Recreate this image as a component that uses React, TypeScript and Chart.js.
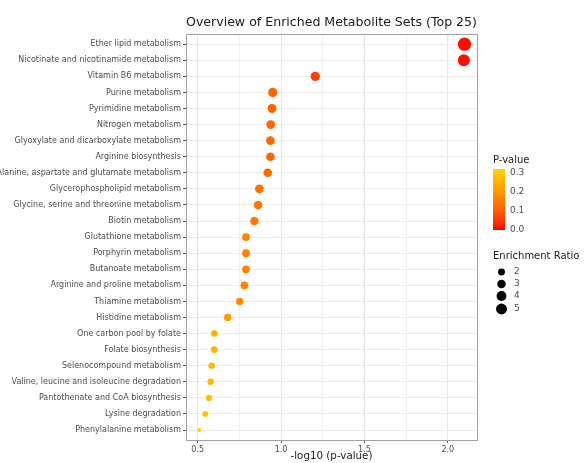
import React, { useEffect, useRef } from "react";
import { Chart, registerables } from "chart.js";

Chart.register(...registerables);

const categories = [
  "Ether lipid metabolism",
  "Nicotinate and nicotinamide metabolism",
  "Vitamin B6 metabolism",
  "Purine metabolism",
  "Pyrimidine metabolism",
  "Nitrogen metabolism",
  "Glyoxylate and dicarboxylate metabolism",
  "Arginine biosynthesis",
  "Alanine, aspartate and glutamate metabolism",
  "Glycerophospholipid metabolism",
  "Glycine, serine and threonine metabolism",
  "Biotin metabolism",
  "Glutathione metabolism",
  "Porphyrin metabolism",
  "Butanoate metabolism",
  "Arginine and proline metabolism",
  "Thiamine metabolism",
  "Histidine metabolism",
  "One carbon pool by folate",
  "Folate biosynthesis",
  "Selenocompound metabolism",
  "Valine, leucine and isoleucine degradation",
  "Pantothenate and CoA biosynthesis",
  "Lysine degradation",
  "Phenylalanine metabolism",
];

const negLog10P = [
  2.1, 2.096, 1.205, 0.95, 0.946, 0.938, 0.936, 0.936, 0.92, 0.87, 0.862, 0.84,
  0.79, 0.79, 0.79, 0.78, 0.752, 0.68, 0.6, 0.6, 0.584, 0.578, 0.568, 0.546, 0.51,
];

const enrichmentRatio = [
  7.3, 6.0, 3.6, 3.5, 3.3, 3.2, 3.1, 3.1, 3.0, 3.2, 3.0, 2.9, 2.6, 2.6, 2.5, 2.5,
  2.3, 2.3, 1.8, 1.8, 1.7, 1.7, 1.6, 1.4, 0.7,
];

const xTicks = [0.5, 1.0, 1.5, 2.0];
const pLegendTicks = [0.3, 0.2, 0.1, 0.0];
const ratioLegend = [2, 3, 4, 5];

const P_MAX = 0.32;
function pColor(p: number) {
  const t = Math.max(0, Math.min(1, p / P_MAX));
  const g = Math.round(212 * Math.pow(t, 0.72));
  return `rgb(255,${g},0)`;
}
function ratioRadius(r: number) {
  return 2.45 * Math.sqrt(r);
}

const FONT = "'DejaVu Sans', sans-serif";

const overlayPlugin = {
  id: "overlay",
  beforeDatasetsDraw(chart: any) {
    const { ctx, chartArea } = chart;
    ctx.save();
    ctx.strokeStyle = "#a0a0a0";
    ctx.lineWidth = 1;
    ctx.strokeRect(
      Math.round(chartArea.left) + 0.5,
      Math.round(chartArea.top) + 0.5,
      Math.round(chartArea.right - chartArea.left),
      Math.round(chartArea.bottom - chartArea.top)
    );
    ctx.restore();
  },
  afterDraw(chart: any) {
    const { ctx } = chart;
    ctx.save();
    const lx = 493;
    // P-value legend
    ctx.fillStyle = "#1a1a1a";
    ctx.font = `10px ${FONT}`;
    ctx.textAlign = "left";
    ctx.textBaseline = "middle";
    ctx.fillText("P-value", lx, 160);
    const barTop = 169;
    const barBottom = 230;
    const perUnit = (barBottom - barTop) / P_MAX;
    const grad = ctx.createLinearGradient(0, barBottom, 0, barTop);
    for (let i = 0; i <= 10; i++) {
      grad.addColorStop(i / 10, pColor((i / 10) * P_MAX));
    }
    ctx.fillStyle = grad;
    ctx.fillRect(lx, barTop, 12, barBottom - barTop);
    ctx.font = `9px ${FONT}`;
    ctx.fillStyle = "#4d4d4d";
    pLegendTicks.forEach((v) => {
      const y = barBottom - v * perUnit;
      ctx.fillText(v.toFixed(1), 510, y);
    });
    // Enrichment ratio legend
    ctx.fillStyle = "#1a1a1a";
    ctx.font = `10px ${FONT}`;
    ctx.fillText("Enrichment Ratio", lx, 256);
    const ys = [272, 284, 296, 309];
    ratioLegend.forEach((r, i) => {
      ctx.fillStyle = "#000";
      ctx.beginPath();
      ctx.arc(501.5, ys[i], ratioRadius(r), 0, Math.PI * 2);
      ctx.fill();
      ctx.fillStyle = "#4d4d4d";
      ctx.font = `9px ${FONT}`;
      ctx.fillText(String(r), 514, ys[i]);
    });
    ctx.restore();
  },
};

export default function App() {
  const ref = useRef<HTMLCanvasElement>(null);
  useEffect(() => {
    if (!ref.current) return;
    const data = categories.map((c, i) => ({ x: negLog10P[i], y: i }));
    const chart = new Chart(ref.current, {
      type: "scatter",
      data: {
        datasets: [
          {
            data,
            pointRadius: (ctx: any) => ratioRadius(enrichmentRatio[ctx.dataIndex] ?? 2),
            pointHoverRadius: (ctx: any) => ratioRadius(enrichmentRatio[ctx.dataIndex] ?? 2),
            pointBackgroundColor: (ctx: any) =>
              pColor(Math.pow(10, -(negLog10P[ctx.dataIndex] ?? 0))),
            pointBorderWidth: 0,
            borderWidth: 0,
          },
        ],
      },
      plugins: [overlayPlugin],
      options: {
        animation: false,
        responsive: true,
        maintainAspectRatio: false,
        layout: { padding: { left: 0, right: 107, top: 0, bottom: 0 } },
        plugins: {
          legend: { display: false },
          tooltip: { enabled: false },
          title: {
            display: true,
            text: "Overview of Enriched Metabolite Sets (Top 25)",
            fullSize: false,
            color: "#1a1a1a",
            font: { family: FONT, size: 12.7, weight: "normal" },
            padding: { top: 15, bottom: 4 },
          },
        },
        scales: {
          x: {
            type: "linear",
            min: 0.43,
            max: 2.175,
            afterFit: (s: any) => {
              s.height = 23;
            },
            ticks: {
              stepSize: 0.25,
              includeBounds: false,
              autoSkip: false,
              maxRotation: 0,
              padding: 2,
              color: "#4d4d4d",
              font: { family: FONT, size: 8 },
              callback: (v: any) => {
                const n = Number(v);
                return xTicks.some((t) => Math.abs(t - n) < 1e-6) ? n.toFixed(1) : "";
              },
            },
            grid: {
              color: (ctx: any) => {
                const n = ctx.tick ? ctx.tick.value : 0;
                return xTicks.some((t) => Math.abs(t - n) < 1e-6) ? "#e6e6e6" : "#f2f2f2";
              },
              tickColor: (ctx: any) => {
                const n = ctx.tick ? ctx.tick.value : 0;
                return xTicks.some((t) => Math.abs(t - n) < 1e-6) ? "#555" : "rgba(0,0,0,0)";
              },
              tickLength: 3,
              drawTicks: true,
            },
            border: { display: false },
            title: {
              display: true,
              text: "-log10 (p-value)",
              color: "#1a1a1a",
              font: { family: FONT, size: 10.3 },
              padding: { top: 0, bottom: 0 },
            },
          },
          y: {
            type: "linear",
            reverse: true,
            min: -0.62,
            max: 24.62,
            afterFit: (s: any) => {
              s.width = 186;
            },
            ticks: {
              stepSize: 1,
              includeBounds: false,
              autoSkip: false,
              padding: 2,
              color: "#4d4d4d",
              font: { family: FONT, size: 8 },
              callback: (v: any) => {
                const n = Number(v);
                return Number.isInteger(n) ? categories[n] ?? "" : "";
              },
            },
            grid: {
              color: "#ebebeb",
              tickColor: "#555",
              tickLength: 3,
            },
            border: { display: false },
          },
        },
      },
    } as any);
    return () => chart.destroy();
  }, []);
  return (
    <div style={{ position: "fixed", left: 0, top: 0, width: 584, height: 463, background: "#fff" }}>
      <canvas ref={ref} />
    </div>
  );
}
